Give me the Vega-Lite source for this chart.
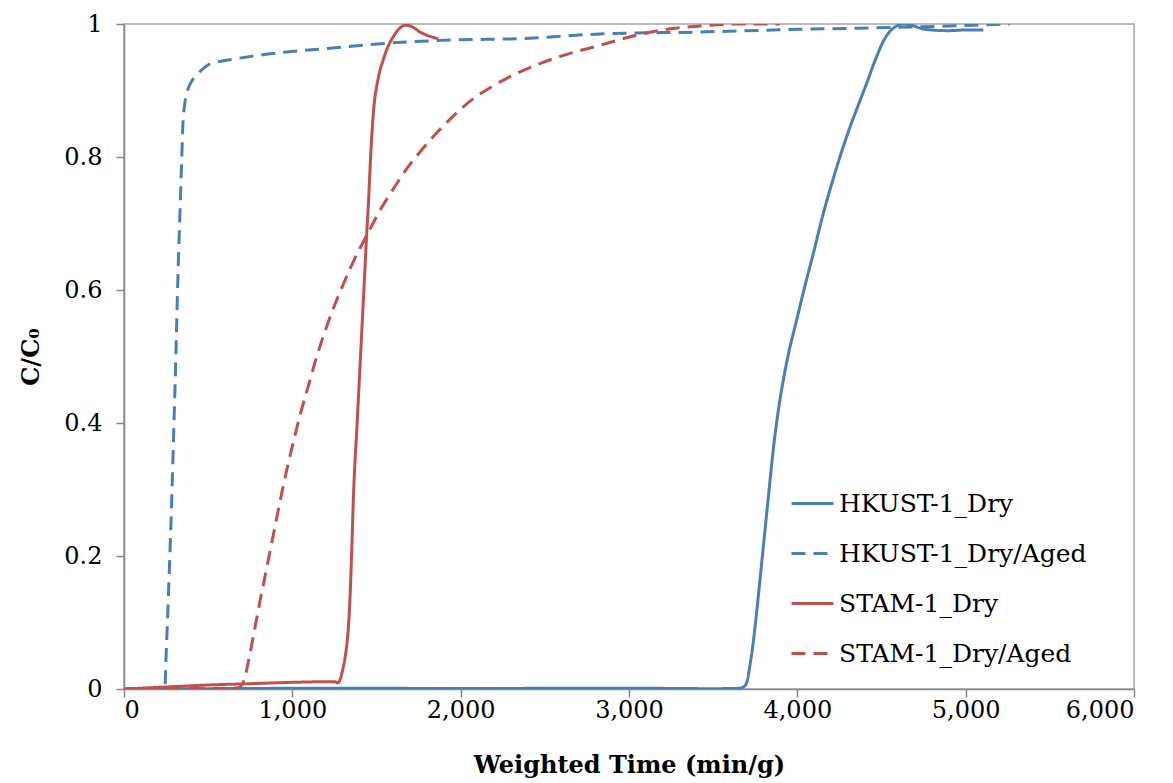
{
  "$schema": "https://vega.github.io/schema/vega-lite/v6.json",
  "width": 1010,
  "height": 665,
  "autosize": "none",
  "padding": {"left": 124, "top": 24, "right": 39, "bottom": 94},
  "background": "white",
  "config": {
    "font": "DejaVu Serif",
    "view": {"stroke": "#A6A6A6", "strokeWidth": 1.5}
  },
  "data": {"values": [
    {"s":"HKUST-1_Dry","x":0,"y":0},{"s":"HKUST-1_Dry","x":500,"y":0.0005},{"s":"HKUST-1_Dry","x":1000,"y":0.001},{"s":"HKUST-1_Dry","x":1500,"y":0.001},{"s":"HKUST-1_Dry","x":2000,"y":0.0008},{"s":"HKUST-1_Dry","x":2500,"y":0.001},{"s":"HKUST-1_Dry","x":3000,"y":0.0012},{"s":"HKUST-1_Dry","x":3500,"y":0.0005},{"s":"HKUST-1_Dry","x":3650,"y":0.001},{"s":"HKUST-1_Dry","x":3685,"y":0.004},{"s":"HKUST-1_Dry","x":3702,"y":0.012},{"s":"HKUST-1_Dry","x":3718,"y":0.035},{"s":"HKUST-1_Dry","x":3738,"y":0.07},{"s":"HKUST-1_Dry","x":3758,"y":0.115},{"s":"HKUST-1_Dry","x":3778,"y":0.164},{"s":"HKUST-1_Dry","x":3798,"y":0.214},{"s":"HKUST-1_Dry","x":3818,"y":0.264},{"s":"HKUST-1_Dry","x":3838,"y":0.314},{"s":"HKUST-1_Dry","x":3858,"y":0.362},{"s":"HKUST-1_Dry","x":3882,"y":0.41},{"s":"HKUST-1_Dry","x":3912,"y":0.458},{"s":"HKUST-1_Dry","x":3950,"y":0.507},{"s":"HKUST-1_Dry","x":3996,"y":0.555},{"s":"HKUST-1_Dry","x":4045,"y":0.606},{"s":"HKUST-1_Dry","x":4095,"y":0.655},{"s":"HKUST-1_Dry","x":4150,"y":0.711},{"s":"HKUST-1_Dry","x":4214,"y":0.768},{"s":"HKUST-1_Dry","x":4263,"y":0.808},{"s":"HKUST-1_Dry","x":4313,"y":0.845},{"s":"HKUST-1_Dry","x":4362,"y":0.878},{"s":"HKUST-1_Dry","x":4412,"y":0.911},{"s":"HKUST-1_Dry","x":4460,"y":0.944},{"s":"HKUST-1_Dry","x":4511,"y":0.974},{"s":"HKUST-1_Dry","x":4550,"y":0.989},{"s":"HKUST-1_Dry","x":4590,"y":0.997},{"s":"HKUST-1_Dry","x":4630,"y":1.0},{"s":"HKUST-1_Dry","x":4680,"y":0.998},{"s":"HKUST-1_Dry","x":4740,"y":0.993},{"s":"HKUST-1_Dry","x":4800,"y":0.991},{"s":"HKUST-1_Dry","x":4900,"y":0.99},{"s":"HKUST-1_Dry","x":5000,"y":0.991},{"s":"HKUST-1_Dry","x":5105,"y":0.991},
    {"s":"HKUST-1_Dry/Aged","x":0,"y":0},{"s":"HKUST-1_Dry/Aged","x":100,"y":0.0005},{"s":"HKUST-1_Dry/Aged","x":200,"y":0.001},{"s":"HKUST-1_Dry/Aged","x":243,"y":0.003},{"s":"HKUST-1_Dry/Aged","x":250,"y":0.05},{"s":"HKUST-1_Dry/Aged","x":258,"y":0.1},{"s":"HKUST-1_Dry/Aged","x":270,"y":0.184},{"s":"HKUST-1_Dry/Aged","x":283,"y":0.28},{"s":"HKUST-1_Dry/Aged","x":295,"y":0.384},{"s":"HKUST-1_Dry/Aged","x":306,"y":0.48},{"s":"HKUST-1_Dry/Aged","x":316,"y":0.58},{"s":"HKUST-1_Dry/Aged","x":324,"y":0.65},{"s":"HKUST-1_Dry/Aged","x":333,"y":0.72},{"s":"HKUST-1_Dry/Aged","x":342,"y":0.79},{"s":"HKUST-1_Dry/Aged","x":350,"y":0.85},{"s":"HKUST-1_Dry/Aged","x":360,"y":0.878},{"s":"HKUST-1_Dry/Aged","x":375,"y":0.898},{"s":"HKUST-1_Dry/Aged","x":400,"y":0.913},{"s":"HKUST-1_Dry/Aged","x":432,"y":0.923},{"s":"HKUST-1_Dry/Aged","x":470,"y":0.933},{"s":"HKUST-1_Dry/Aged","x":511,"y":0.94},{"s":"HKUST-1_Dry/Aged","x":600,"y":0.945},{"s":"HKUST-1_Dry/Aged","x":670,"y":0.948},{"s":"HKUST-1_Dry/Aged","x":800,"y":0.953},{"s":"HKUST-1_Dry/Aged","x":966,"y":0.958},{"s":"HKUST-1_Dry/Aged","x":1200,"y":0.963},{"s":"HKUST-1_Dry/Aged","x":1560,"y":0.971},{"s":"HKUST-1_Dry/Aged","x":1956,"y":0.976},{"s":"HKUST-1_Dry/Aged","x":2353,"y":0.978},{"s":"HKUST-1_Dry/Aged","x":2828,"y":0.985},{"s":"HKUST-1_Dry/Aged","x":3422,"y":0.988},{"s":"HKUST-1_Dry/Aged","x":4016,"y":0.992},{"s":"HKUST-1_Dry/Aged","x":4610,"y":0.995},{"s":"HKUST-1_Dry/Aged","x":5263,"y":1.0},
    {"s":"STAM-1_Dry","x":0,"y":0},{"s":"STAM-1_Dry","x":250,"y":0.003},{"s":"STAM-1_Dry","x":500,"y":0.006},{"s":"STAM-1_Dry","x":750,"y":0.008},{"s":"STAM-1_Dry","x":1000,"y":0.01},{"s":"STAM-1_Dry","x":1224,"y":0.011},{"s":"STAM-1_Dry","x":1255,"y":0.011},{"s":"STAM-1_Dry","x":1268,"y":0.009},{"s":"STAM-1_Dry","x":1285,"y":0.015},{"s":"STAM-1_Dry","x":1300,"y":0.03},{"s":"STAM-1_Dry","x":1315,"y":0.05},{"s":"STAM-1_Dry","x":1325,"y":0.07},{"s":"STAM-1_Dry","x":1335,"y":0.1},{"s":"STAM-1_Dry","x":1343,"y":0.14},{"s":"STAM-1_Dry","x":1353,"y":0.209},{"s":"STAM-1_Dry","x":1363,"y":0.289},{"s":"STAM-1_Dry","x":1385,"y":0.4},{"s":"STAM-1_Dry","x":1409,"y":0.52},{"s":"STAM-1_Dry","x":1425,"y":0.6},{"s":"STAM-1_Dry","x":1442,"y":0.685},{"s":"STAM-1_Dry","x":1452,"y":0.73},{"s":"STAM-1_Dry","x":1465,"y":0.8},{"s":"STAM-1_Dry","x":1481,"y":0.865},{"s":"STAM-1_Dry","x":1510,"y":0.918},{"s":"STAM-1_Dry","x":1540,"y":0.946},{"s":"STAM-1_Dry","x":1570,"y":0.967},{"s":"STAM-1_Dry","x":1600,"y":0.981},{"s":"STAM-1_Dry","x":1635,"y":0.993},{"s":"STAM-1_Dry","x":1669,"y":0.998},{"s":"STAM-1_Dry","x":1700,"y":0.997},{"s":"STAM-1_Dry","x":1730,"y":0.993},{"s":"STAM-1_Dry","x":1758,"y":0.988},{"s":"STAM-1_Dry","x":1800,"y":0.983},{"s":"STAM-1_Dry","x":1867,"y":0.978},
    {"s":"STAM-1_Dry/Aged","x":0,"y":0},{"s":"STAM-1_Dry/Aged","x":300,"y":0.0005},{"s":"STAM-1_Dry/Aged","x":600,"y":0.001},{"s":"STAM-1_Dry/Aged","x":680,"y":0.002},{"s":"STAM-1_Dry/Aged","x":700,"y":0.006},{"s":"STAM-1_Dry/Aged","x":720,"y":0.02},{"s":"STAM-1_Dry/Aged","x":750,"y":0.055},{"s":"STAM-1_Dry/Aged","x":780,"y":0.095},{"s":"STAM-1_Dry/Aged","x":810,"y":0.135},{"s":"STAM-1_Dry/Aged","x":840,"y":0.172},{"s":"STAM-1_Dry/Aged","x":870,"y":0.21},{"s":"STAM-1_Dry/Aged","x":900,"y":0.248},{"s":"STAM-1_Dry/Aged","x":950,"y":0.31},{"s":"STAM-1_Dry/Aged","x":1000,"y":0.365},{"s":"STAM-1_Dry/Aged","x":1046,"y":0.412},{"s":"STAM-1_Dry/Aged","x":1100,"y":0.46},{"s":"STAM-1_Dry/Aged","x":1145,"y":0.5},{"s":"STAM-1_Dry/Aged","x":1200,"y":0.542},{"s":"STAM-1_Dry/Aged","x":1243,"y":0.572},{"s":"STAM-1_Dry/Aged","x":1300,"y":0.607},{"s":"STAM-1_Dry/Aged","x":1343,"y":0.632},{"s":"STAM-1_Dry/Aged","x":1400,"y":0.662},{"s":"STAM-1_Dry/Aged","x":1442,"y":0.682},{"s":"STAM-1_Dry/Aged","x":1521,"y":0.72},{"s":"STAM-1_Dry/Aged","x":1600,"y":0.752},{"s":"STAM-1_Dry/Aged","x":1659,"y":0.775},{"s":"STAM-1_Dry/Aged","x":1760,"y":0.808},{"s":"STAM-1_Dry/Aged","x":1857,"y":0.836},{"s":"STAM-1_Dry/Aged","x":1950,"y":0.86},{"s":"STAM-1_Dry/Aged","x":2056,"y":0.884},{"s":"STAM-1_Dry/Aged","x":2200,"y":0.908},{"s":"STAM-1_Dry/Aged","x":2353,"y":0.928},{"s":"STAM-1_Dry/Aged","x":2600,"y":0.952},{"s":"STAM-1_Dry/Aged","x":2828,"y":0.968},{"s":"STAM-1_Dry/Aged","x":3026,"y":0.982},{"s":"STAM-1_Dry/Aged","x":3224,"y":0.992},{"s":"STAM-1_Dry/Aged","x":3422,"y":0.997},{"s":"STAM-1_Dry/Aged","x":3650,"y":1.0},{"s":"STAM-1_Dry/Aged","x":3897,"y":1.0}
  ]},
  "mark": {"type": "line", "strokeWidth": 3, "clip": true, "interpolate": "monotone"},
  "encoding": {
    "x": {
      "field": "x", "type": "quantitative",
      "scale": {"domain": [0, 6000], "nice": false},
      "axis": {
        "title": "Weighted Time (min/g)",
        "values": [0, 1000, 2000, 3000, 4000, 5000, 6000],
        "format": ",d",
        "grid": false,
        "domainColor": "#868686", "domainWidth": 1.5,
        "tickColor": "#868686", "tickSize": 8, "tickWidth": 1.5,
        "labelFont": "DejaVu Serif", "labelFontSize": 24, "labelColor": "#000000", "labelPadding": 1,
        "titleFont": "DejaVu Serif", "titleFontSize": 24, "titleFontWeight": "bold", "titleColor": "#000000", "titlePadding": 31
      }
    },
    "y": {
      "field": "y", "type": "quantitative",
      "scale": {"domain": [0, 1], "nice": false},
      "axis": {
        "title": "C/C₀",
        "values": [0, 0.2, 0.4, 0.6, 0.8, 1],
        "format": "~g",
        "grid": false,
        "domainColor": "#868686", "domainWidth": 1.5,
        "tickColor": "#868686", "tickSize": 8, "tickWidth": 1.5,
        "labelFont": "DejaVu Serif", "labelFontSize": 24, "labelColor": "#000000", "labelPadding": 14,
        "titleFont": "DejaVu Serif", "titleFontSize": 24, "titleFontWeight": "bold", "titleColor": "#000000", "titlePadding": 20
      }
    },
    "color": {
      "field": "s", "type": "nominal",
      "scale": {
        "domain": ["HKUST-1_Dry", "HKUST-1_Dry/Aged", "STAM-1_Dry", "STAM-1_Dry/Aged"],
        "range": ["#4A7EBB", "#4A7EBB", "#C0504D", "#C0504D"]
      },
      "legend": {
        "orient": "none", "legendX": 666, "legendY": 457,
        "title": null,
        "symbolType": "stroke", "symbolSize": 1764, "symbolStrokeWidth": 3,
        "labelFont": "DejaVu Serif", "labelFontSize": 25, "labelColor": "#000000",
        "labelOffset": 4, "rowPadding": 14, "labelLimit": 400
      }
    },
    "strokeDash": {
      "field": "s", "type": "nominal",
      "scale": {
        "domain": ["HKUST-1_Dry", "HKUST-1_Dry/Aged", "STAM-1_Dry", "STAM-1_Dry/Aged"],
        "range": [[1, 0], [14, 8], [1, 0], [14, 8]]
      },
      "legend": null
    }
  }
}
